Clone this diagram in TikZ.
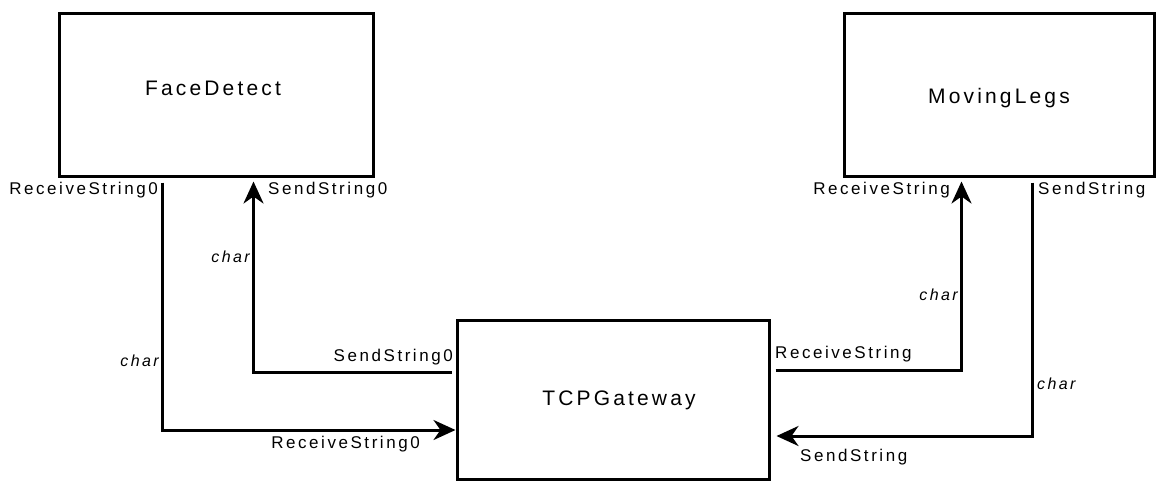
\documentclass[tikz,border=0pt]{standalone}
\usepackage{fontspec}
\setmainfont{Liberation Sans}
\newfontfamily\boxfont[LetterSpace=15]{Liberation Sans}
\newfontfamily\portfont[LetterSpace=15]{Liberation Sans}
\usetikzlibrary{arrows.meta,calc}
\tikzset{
  module/.style={draw, line width=3pt, rectangle, inner sep=0pt},
  title/.style={font=\boxfont\fontsize{21}{24}\selectfont, inner sep=0pt},
  port/.style={font=\portfont\fontsize{17}{20}\selectfont, inner sep=0pt},
  dtype/.style={font=\portfont\itshape\fontsize{16}{19}\selectfont, inner sep=0pt},
  conn/.style={line width=3pt, -{Stealth[length=22pt,width=20pt,inset=7pt]}},
}
\begin{document}
\begin{tikzpicture}[x=1pt,y=-1pt]
  \useasboundingbox (0,0) rectangle (1157,480);

  % components
  \node[module, minimum width=314pt, minimum height=163pt] (fd) at (216,94.5) {};
  \node[module, minimum width=310pt, minimum height=163pt] (ml) at (999,94.5) {};
  \node[module, minimum width=312pt, minimum height=159pt] (gw) at (613,400) {};

  \node[title] (fdname) at (213,88) {FaceDetect};
  \node[title] (mlname) at (999,98) {MovingLegs};
  \node[title] (gwname) at (619,400) {TCPGateway};

  % FaceDetect -> TCPGateway
  \draw[conn] ($(fd.south west)+(105,5)$) |- ([yshift=-30pt]gw.west);
  % TCPGateway -> FaceDetect
  \draw[conn] ([shift={(-4pt,28pt)}]gw.west) -| ($(fd.south west)+(196,4)$);
  % TCPGateway -> MovingLegs
  \draw[conn] ([shift={(5pt,30pt)}]gw.east) -| ($(ml.south west)+(119,4)$);
  % MovingLegs -> TCPGateway
  \draw[conn] ($(ml.south west)+(190,5)$) |- ([shift={(6pt,-36pt)}]gw.east);

  % port names
  \node[port, anchor=east] (fdrx) at (158,190) {ReceiveString0};
  \node[port, anchor=west] (fdtx) at (268,190) {SendString0};
  \node[port, anchor=east] (gwtx0) at (453,357) {SendString0};
  \node[port, anchor=east] (gwrx0) at (420,444) {ReceiveString0};
  \node[port, anchor=east] (mlrx) at (950,190) {ReceiveString};
  \node[port, anchor=west] (mltx) at (1038,190) {SendString};
  \node[port, anchor=west] (gwtx) at (775,354) {ReceiveString};
  \node[port, anchor=west] (gwrx) at (800,457) {SendString};

  % data types
  \node[dtype, anchor=east] (t1) at (159,361) {char};
  \node[dtype, anchor=east] (t2) at (250,257) {char};
  \node[dtype, anchor=east] (t3) at (958,295) {char};
  \node[dtype, anchor=west] (t4) at (1037,384) {char};
\end{tikzpicture}
\end{document}
